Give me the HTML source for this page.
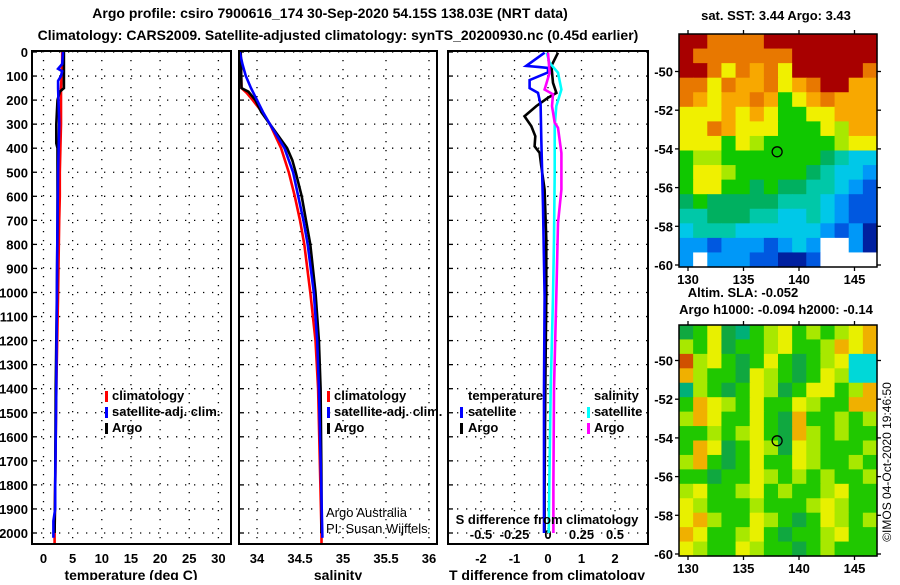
<!DOCTYPE html>
<html><head><meta charset="utf-8"><style>
html,body{margin:0;padding:0;background:#fff;}
svg text{font-family:"Liberation Sans",Arial,sans-serif;font-weight:bold;}
</style></head><body>
<svg id="c" width="900" height="580" viewBox="0 0 900 580" xmlns="http://www.w3.org/2000/svg">
<text x="330" y="18" text-anchor="middle" font-size="14">Argo profile: csiro 7900616_174 30-Sep-2020 54.15S 138.03E (NRT data)</text>
<text x="338" y="40" text-anchor="middle" font-size="14">Climatology: CARS2009. Satellite-adjusted climatology: synTS_20200930.nc (0.45d earlier)</text>
<g id="g"></g>
</svg>
<script>
// ---------- data ----------
const depthTicks=[0,100,200,300,400,500,600,700,800,900,1000,1100,1200,1300,1400,1500,1600,1700,1800,1900,2000];
const tTicks=[0,5,10,15,20,25,30];
const sTicks=[34,34.5,35,35.5,36];
const sTickLabels=["34","34.5","35","35.5","36"];
const dTTicks=[-2,-1,0,1,2];
const dSTicks=[-0.5,-0.25,0,0.25,0.5];
const dSTickLabels=["-0.5","-0.25","0","0.25","0.5"];

const climTDepth=[0,50,100,150,200,300,400,500,600,700,1000,1400,1800,2000,2150];
const climT=[3.2,3.2,3.1,3.0,3.0,3.0,2.9,2.8,2.8,2.7,2.5,2.2,2.0,1.9,1.9];
const satTDepth=[0,50,70,80,100,120,150,300,500,700,1000,1400,1800,1900,1950,2020];
const satT=[3.35,3.2,2.5,3.2,3.0,2.5,2.5,2.7,2.5,2.4,2.3,2.2,2.0,2.0,1.7,1.7];
const argoTDepth=[0,50,100,150,165,200,250,300,380,400,700,1000,1400,1800,2000];
const argoT=[3.5,3.5,3.5,3.5,2.8,2.4,2.3,2.2,2.2,2.4,2.4,2.3,2.1,2.0,1.9];

const climSDepth=[0,150,170,200,250,300,400,500,600,700,800,1000,1200,1400,1700,2000,2150];
const climS=[33.81,33.82,33.88,33.95,34.06,34.15,34.28,34.37,34.44,34.5,34.55,34.62,34.68,34.71,34.73,34.75,34.75];
const satSDepth=[0,50,100,150,200,250,300,400,500,700,800,1000,1200,1400,1700,2020];
const satS=[33.8,33.83,33.87,33.93,34.0,34.07,34.15,34.32,34.42,34.54,34.59,34.66,34.7,34.72,34.74,34.76];
const argoSDepth=[0,150,165,200,250,300,400,450,500,600,700,800,1000,1200,1400,1800,2000];
const argoS=[33.81,33.82,33.9,33.98,34.05,34.15,34.35,34.41,34.45,34.52,34.57,34.62,34.68,34.72,34.74,34.75,34.75];

const dDepth=[3,58,128,170,190,225,267,308,350,392,419,475,572,780,1017,1400,1800,2000];
const argoDT=[0.3,0.1,0.15,0.25,0.0,-0.35,-0.7,-0.5,-0.38,-0.4,-0.25,-0.2,-0.1,-0.05,-0.05,-0.08,-0.1,-0.1];
const satDTDepth=[3,58,62,66,85,117,150,170,218,364,640,1017,1400,1700,2000];
const satDT=[-0.1,-0.65,-0.3,0.0,0.0,-0.55,-0.55,-0.3,-0.22,-0.2,-0.15,-0.1,-0.12,-0.12,-0.12];
const satDSDepth=[3,45,86,156,225,308,503,780,1017,1400,1800,2000];
const satDS=[-0.01,0.012,0.075,0.1,0.062,0.05,0.05,0.045,0.037,0.02,0.01,0.005];
const argoDSDepth=[3,86,156,176,225,294,315,420,572,711,1017,1400,1800,2000];
const argoDS=[0.0,0.012,-0.025,0.037,0.03,0.05,0.075,0.1,0.1,0.075,0.062,0.045,0.04,0.04];

// maps: colour code grids (rows top->bottom, cols west->east)
const sstGrid=[
"RROOOORRRRRRRR",
"ROOOOOOORRRRRR",
"RROYOoOYRRRRRO",
"OOYOooOYoORRoo",
"OoYooOoGYoOooo",
"YYYoYoYGGYYooo",
"YYOoYYYGGGYyoo",
"YYYGYyGGGGGyYY",
"GyyGGGGGGGgcCC",
"GYYyGGGGGgcCCB",
"GYYGGgGggccCBb",
"gGgggggcccCBbb",
"ccgggccCCcCBbb",
"CcccCCCCCCBbBD",
"BBbBBBbBCBWWBD",
"BWBBBbbDDbWWWW"];
const slaGrid=[
"gGYgtGlYGlGlYO",
"lGYgGGlYGGlOYO",
"RlYGgGYGgGlYCC",
"OlGGgYlGgGYlCC",
"tlGgGYlgGYYGlO",
"GOYlGYGGYlGGOO",
"lOYGGYGgOGGlGl",
"GGlGlYGgOlGlGG",
"GOYgGYlgYlGGGl",
"lOGgGYGGYlGGlG",
"GGgGGYlGlGlGGl",
"lYGGlYGlGGlYGG",
"YlGGGlGGGlYlGG",
"YOlGGYlGgGYlGl",
"OYGGlYGgGGlYGG",
"YlGGYlGGgGlGGG"];
const latTicks=[-50,-52,-54,-56,-58,-60];
const lonTicks=[130,135,140,145];
const floatLon=138.03, floatLat=-54.15;

// ---------- drawing ----------
const NS="http://www.w3.org/2000/svg";
const G=document.getElementById('g');
function el(tag,attrs,parent){const e=document.createElementNS(NS,tag);for(const k in attrs)e.setAttribute(k,attrs[k]);(parent||G).appendChild(e);return e;}
const TOP=51,BOT=544;
const yD=d=>52+d*0.2405;
const panels=[
 {name:'temperature-panel',x0:32,x1:231,fx:v=>43.5+v*5.83},
 {name:'salinity-panel',x0:239,x1:437,fx:v=>257+(v-34)*86},
 {name:'difference-panel',x0:448,x1:648,fx:v=>548+v*33.5}];
const fS3=v=>548+v*134;

panels.forEach((p,i)=>{
  const cp=el('clipPath',{id:'cp'+i});
  el('rect',{x:p.x0,y:TOP,width:p.x1-p.x0,height:BOT-TOP},cp);
  p.clip='url(#cp'+i+')';
  // horizontal grid
  depthTicks.forEach(d=>{
    const l=el('line',{x1:p.x0,x2:p.x1,y1:yD(d),y2:yD(d),stroke:'#000','stroke-width':1.3,'stroke-dasharray':'1.3,7.7'});
    
    
    const t=el('line',{x1:p.x0,x2:p.x0+5,y1:yD(d),y2:yD(d),stroke:'#000','stroke-width':1.3});
    
    
  });
});
// vertical grids + x labels
function vgrid(p,vals,labels,fx,ly){
  vals.forEach((v,k)=>{
    const x=fx(v);
    const l=el('line',{x1:x,x2:x,y1:TOP,y2:BOT,stroke:'#000','stroke-width':1.3,'stroke-dasharray':'1.3,7.7'});
    
    
    if(ly){const t=el('text',{x:x,y:ly,'text-anchor':'middle','font-size':13});t.textContent=labels[k];
    
    }
  });
}
vgrid(panels[0],tTicks,tTicks.map(String),panels[0].fx,563);
vgrid(panels[1],sTicks,sTickLabels,panels[1].fx,563);
vgrid(panels[2],dTTicks,dTTicks.map(String),panels[2].fx,563);
dSTicks.forEach((v,k)=>{const t=el('text',{x:fS3(v),y:539,'text-anchor':'middle','font-size':13});t.textContent=dSTickLabels[k];
 
 });
// depth labels
depthTicks.forEach(d=>{const t=el('text',{x:28,y:yD(d)+5,'text-anchor':'end','font-size':13});t.textContent=String(d);
 
 });

function prof(p,depths,vals,fx,color,name){
  let pts=[];
  depths.forEach((d,k)=>{pts.push(fx(vals[k]).toFixed(1)+','+yD(d).toFixed(1));});
  const pl=el('polyline',{points:pts.join(' '),fill:'none',stroke:color,'stroke-width':2.6,'clip-path':p.clip,'stroke-linejoin':'miter'});
  
  
}
const P=panels;
prof(P[0],climTDepth,climT,P[0].fx,'#ff0000','temperature-climatology-line');
prof(P[0],argoTDepth,argoT,P[0].fx,'#000000','temperature-argo-line');
prof(P[0],satTDepth,satT,P[0].fx,'#0000ff','temperature-satellite-line');
prof(P[1],climSDepth,climS,P[1].fx,'#ff0000','salinity-climatology-line');
prof(P[1],argoSDepth,argoS,P[1].fx,'#000000','salinity-argo-line');
prof(P[1],satSDepth,satS,P[1].fx,'#0000ff','salinity-satellite-line');
prof(P[2],dDepth,argoDT,P[2].fx,'#000000','t-diff-argo-line');
prof(P[2],satDTDepth,satDT,P[2].fx,'#0000ff','t-diff-satellite-line');
prof(P[2],satDSDepth,satDS,fS3,'#00ffff','s-diff-satellite-line');
prof(P[2],argoDSDepth,argoDS,fS3,'#ff00ff','s-diff-argo-line');

panels.forEach(p=>{const r=el('rect',{x:p.x0,y:TOP,width:p.x1-p.x0,height:BOT-TOP,fill:'none',stroke:'#000','stroke-width':2});
 
 });

function txt(x,y,s,name,size,anchor){const t=el('text',{x:x,y:y,'font-size':size||13,'text-anchor':anchor||'start'});t.textContent=s;
 
 return t;}
function bar(x,y,c,name){const r=el('rect',{x:x,y:y,width:3,height:11,fill:c});
 
 }
// legends
bar(105,391,'#ff0000','legend-climatology-swatch');txt(112,400,'climatology','legend-climatology');
bar(105,407,'#0000ff','legend-satellite-swatch');txt(112,416,'satellite-adj. clim.','legend-satellite');
bar(105,423,'#000','legend-argo-swatch');txt(112,432,'Argo','legend-argo');
bar(327,391,'#ff0000','legend-climatology-swatch-2');txt(334,400,'climatology','legend-climatology-2');
bar(327,407,'#0000ff','legend-satellite-swatch-2');txt(334,416,'satellite-adj. clim.','legend-satellite-2');
bar(327,423,'#000','legend-argo-swatch-2');txt(334,432,'Argo','legend-argo-2');
txt(468,400,'temperature','legend-temperature-header');txt(594,400,'salinity','legend-salinity-header');
bar(460,407,'#0000ff','legend-t-satellite-swatch');txt(468,416,'satellite','legend-t-satellite');
bar(460,423,'#000','legend-t-argo-swatch');txt(468,432,'Argo','legend-t-argo');
bar(587,407,'#00ffff','legend-s-satellite-swatch');txt(594,416,'satellite','legend-s-satellite');
bar(587,423,'#ff00ff','legend-s-argo-swatch');txt(594,432,'Argo','legend-s-argo');
const a1=txt(326,517,'Argo Australia','credit-argo-australia',13);a1.setAttribute('font-weight','normal');a1.style.fontWeight='normal';
const a2=txt(326,533,'PI: Susan Wijffels','credit-pi',13);a2.style.fontWeight='normal';
txt(547,524,'S difference from climatology','s-diff-axis-title',13,'middle');
txt(131,580,'temperature (deg C)','temperature-axis-title',14,'middle');
txt(338,580,'salinity','salinity-axis-title',14,'middle');
txt(547,580,'T difference from climatology','t-diff-axis-title',14,'middle');

// maps
const sstCol={R:'#a80000',O:'#e87800',o:'#f8a800',Y:'#f0f000',y:'#a8e800',G:'#10c800',g:'#00b060',c:'#00c8a8',C:'#00c8e8',B:'#0098f8',b:'#0058e0',D:'#0020a0',W:'#ffffff'};
const slaCol={R:'#d05000',O:'#f0b000',Y:'#e8f000',l:'#a8e800',G:'#20c800',g:'#10a840',t:'#00b078',C:'#00d8d8'};
function map(grid,cols,x0,y0,x1,y1,name,lat60){
  const rows=grid.length,nc=grid[0].length,cw=(x1-x0)/nc,rh=(y1-y0)/rows;
  grid.forEach((row,r)=>{[...row].forEach((ch,c)=>{
    const rc=el('rect',{x:(x0+c*cw).toFixed(2),y:(y0+r*rh).toFixed(2),width:(cw+0.6).toFixed(2),height:(rh+0.6).toFixed(2),fill:cols[ch]});
    
    
  });});
  const fy=v=>lat60+(v+60)*-19.35, fx=v=>688+(v-130)*11.1;
  latTicks.forEach(v=>{const y=fy(v);
    el('line',{x1:x0-4,x2:x0,y1:y,y2:y,stroke:'#000','stroke-width':1.3});
    el('line',{x1:x1,x2:x1+4,y1:y,y2:y,stroke:'#000','stroke-width':1.3});
    txt(x0-6,y+5,String(v),name+'-lat-label',13,'end');});
  lonTicks.forEach(v=>{const x=fx(v);
    el('line',{x1:x,x2:x,y1:y1,y2:y1+4,stroke:'#000','stroke-width':1.3});
    el('line',{x1:x,x2:x,y1:y0-4,y2:y0,stroke:'#000','stroke-width':1.3});
    txt(x,y1+17,String(v),name+'-lon-label',13,'middle');});
  const c=el('circle',{cx:fx(floatLon),cy:fy(floatLat),r:5,fill:'none',stroke:'#000','stroke-width':1.3});
  
  
  const f=el('rect',{x:x0,y:y0,width:x1-x0,height:y1-y0,fill:'none',stroke:'#000','stroke-width':1.5});
  
  
}
map(sstGrid,sstCol,679,34,877,267,'sst-map',265);
map(slaGrid,slaCol,679,325,877,556,'sla-map',554);
txt(776,20,'sat. SST: 3.44 Argo: 3.43','sst-map-title',13,'middle');
txt(743,297,'Altim. SLA: -0.052','sla-value',13,'middle');
txt(776,314,'Argo h1000: -0.094 h2000: -0.14','sla-map-title',13,'middle');
const r=txt(0,0,'©IMOS 04-Oct-2020 19:46:50','imos-timestamp',12,'middle');
r.style.fontWeight='normal';
r.setAttribute('transform','translate(891,462) rotate(-90)');
</script>
</body></html>
